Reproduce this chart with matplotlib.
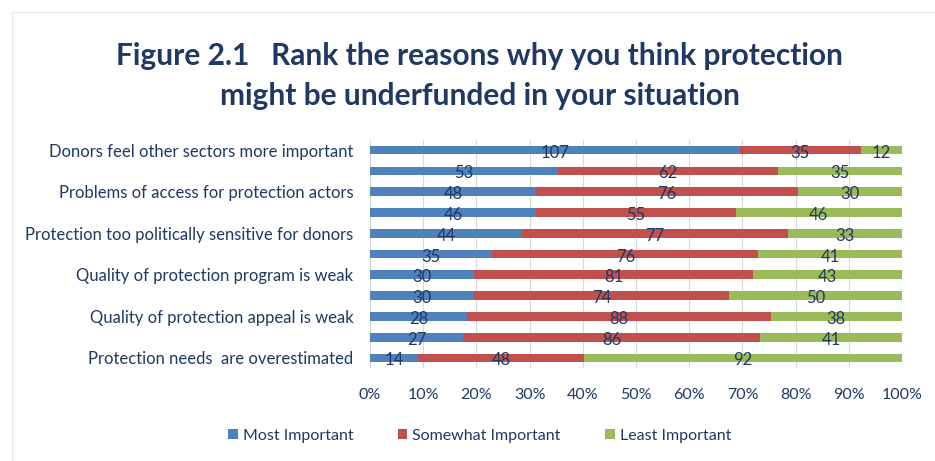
import matplotlib.pyplot as plt
import numpy as np

plt.rcParams['font.family'] = ['Lato', 'DejaVu Sans']

labels = ['Donors feel other sectors more important', '',
          'Problems of access for protection actors', '',
          'Protection too politically sensitive for donors', '',
          'Quality of protection program is weak', '',
          'Quality of protection appeal is weak', '',
          'Protection needs  are overestimated']
most = [107, 53, 48, 46, 44, 35, 30, 30, 28, 27, 14]
somewhat = [35, 62, 76, 55, 77, 76, 81, 74, 88, 86, 48]
least = [12, 35, 30, 46, 33, 41, 43, 50, 38, 41, 92]
series = ['Most Important', 'Somewhat Important', 'Least Important']
colors = ['#4F81BD', '#C0504D', '#9BBB59']
txt = '#1F3864'

vals = np.array([most, somewhat, least], dtype=float)
pct = vals / vals.sum(axis=0) * 100
y = np.arange(len(labels))

fig = plt.figure(figsize=(9.35, 4.61), dpi=100)
ax = fig.add_axes([0.3957, 0.2009, 0.5690, 0.4961])

left = np.zeros(len(labels))
for i in range(3):
    ax.barh(y, pct[i], left=left, height=0.42, color=colors[i], label=series[i], zorder=2)
    for j in range(len(labels)):
        ax.text(left[j] + pct[i][j] / 2, y[j] + 0.12, f'{int(vals[i][j])}',
                ha='center', va='center', fontsize=12, color=txt, zorder=3)
    left += pct[i]

ax.set_ylim(len(labels) - 0.5, -0.5)
ax.set_xlim(0, 100)
ax.set_yticks(y)
ax.set_yticklabels(labels, fontsize=12, color=txt)
ax.set_xticks(np.arange(0, 101, 10))
ax.set_xticklabels([f'{v}%' for v in range(0, 101, 10)], fontsize=11.5, color=txt)
ax.tick_params(length=0, pad=12)
ax.tick_params(axis='x', pad=14)
ax.grid(axis='x', color='#D9D9D9', linewidth=0.8, zorder=0)
ax.axvline(0, color='#D9D9D9', linewidth=0.8, zorder=0)
for s in ax.spines.values():
    s.set_visible(False)

fig.text(0.513, 0.878, 'Figure 2.1   Rank the reasons why you think protection',
         ha='center', va='center', fontsize=21.5, fontweight='bold', color=txt)
fig.text(0.513, 0.792, 'might be underfunded in your situation',
         ha='center', va='center', fontsize=21.5, fontweight='bold', color=txt)

fig.legend(loc='center', bbox_to_anchor=(0.513, 0.055), ncol=3, frameon=False,
           fontsize=11.5, handlelength=0.6, handleheight=0.6, columnspacing=2.8,
           handletextpad=0.3, labelcolor=txt)

border = plt.Rectangle((0.013, -0.1), 1.2, 1.074, transform=fig.transFigure,
                       fill=False, edgecolor='#E4E4E4', linewidth=0.8)
fig.patches.append(border)

fig.savefig('out.png', dpi=100)
